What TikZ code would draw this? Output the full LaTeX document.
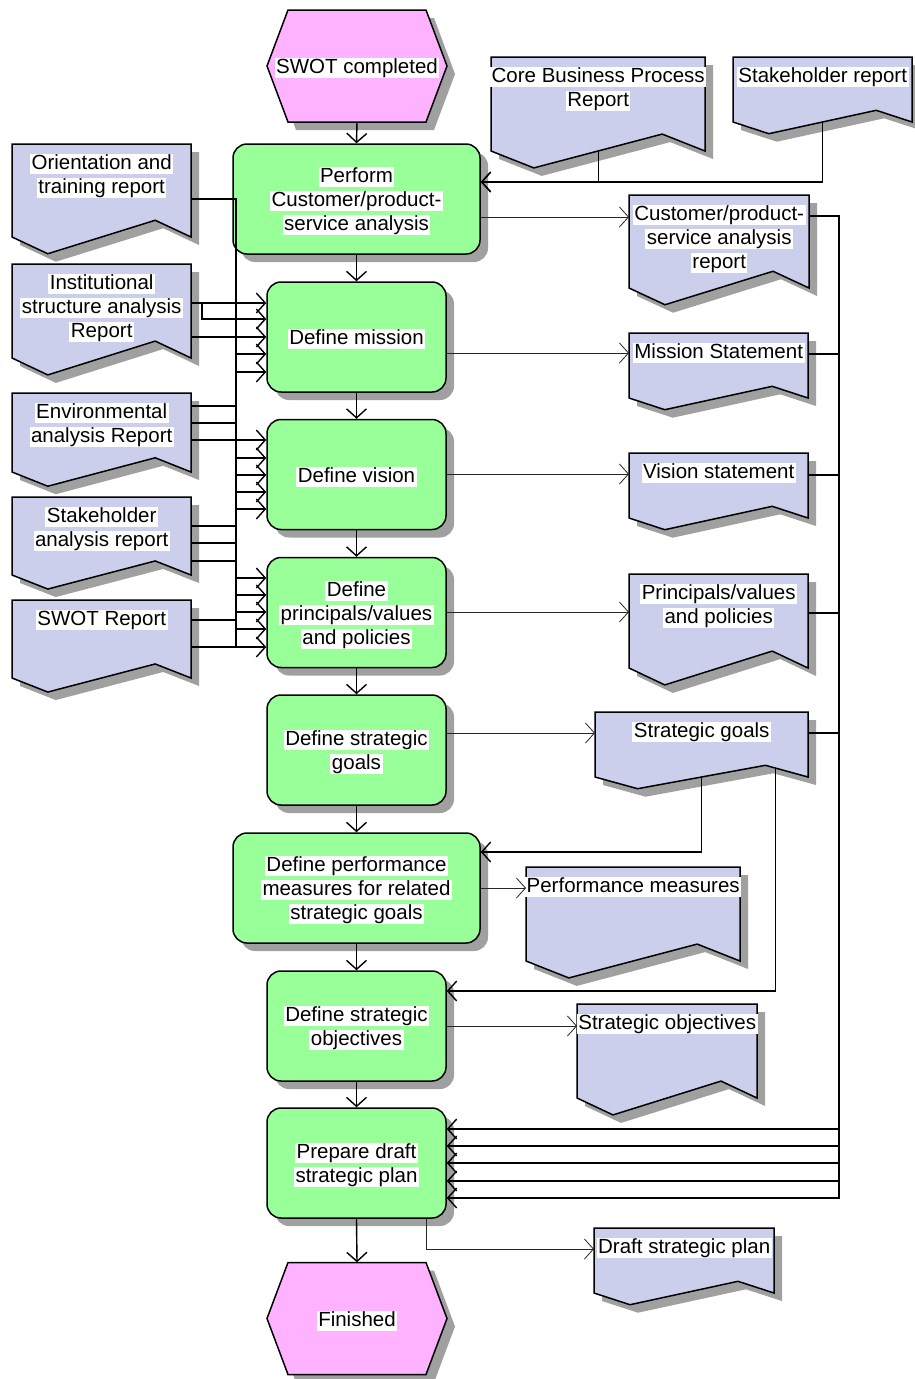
\documentclass[tikz,border=0pt]{standalone}
\usepackage{fontspec}
\setmainfont{Liberation Sans}
\usetikzlibrary{arrows.meta,shadows,calc}

\definecolor{procgreen}{RGB}{153,255,153}
\definecolor{eventpink}{RGB}{255,178,255}
\definecolor{docblue}{RGB}{204,207,236}
\definecolor{shadowgray}{RGB}{160,160,160}

\setlength{\fboxsep}{0pt}
% one text line on a white band, set slightly low so the capitals sit centred
\newcommand{\wl}[1]{\raisebox{-2pt}[15.5pt][4.5pt]{\colorbox{white}{\rule[-4.5pt]{0pt}{20pt}\hspace{1.5pt}#1\hspace{1.5pt}}}}

% document symbol: name, left, top, right, side bottom, label
\newcommand{\docshape}[6]{%
  \pgfmathsetmacro\dcD{0.18*(#5-#3)}%
  \pgfmathsetmacro\dcX{0.2*(#4-#2)}%
  \pgfmathsetmacro\dcPx{#2+\dcX}%
  \pgfmathsetmacro\dcNx{#4-\dcX}%
  \pgfmathsetmacro\dcPy{#5+\dcD}%
  \pgfmathsetmacro\dcNy{#5-\dcD}%
  \pgfmathsetmacro\dcW{#4-#2}%
  \pgfmathsetmacro\dcH{#5-#3}%
  \fill[shadowgray, shift={(8,8)}] (#2,#3) -- (#4,#3) -- (#4,#5) -- (\dcNx,\dcNy) -- (\dcPx,\dcPy) -- (#2,#5) -- cycle;
  \draw[docline] (#2,#3) -- (#4,#3) -- (#4,#5) -- (\dcNx,\dcNy) -- (\dcPx,\dcPy) -- (#2,#5) -- cycle;
  \node[anchor=north west, inner sep=0pt, minimum width=\dcW pt, minimum height=\dcH pt] (#1) at (#2,#3) {};
  \node[lbl, anchor=north] (#1-t) at ($(#1.north)+(0,8)$) {#6};
}

% event hexagon: name, centre x, centre y, label
\newcommand{\eventhex}[4]{%
  \begin{scope}[shift={(#2,#3)}]
    \fill[shadowgray, shift={(8,8)}] (-69,-56) -- (69,-56) -- (90,0) -- (69,56) -- (-69,56) -- (-90,0) -- cycle;
    \draw[line width=1.5pt, fill=eventpink] (-69,-56) -- (69,-56) -- (90,0) -- (69,56) -- (-69,56) -- (-90,0) -- cycle;
  \end{scope}
  \node[inner sep=0pt, minimum width=180pt, minimum height=112pt] (#1) at (#2,#3) {\wl{#4}};
}

\begin{document}
\begin{tikzpicture}[x=1pt, y=-1pt,
  font=\fontsize{20.5}{24}\selectfont,
  proc/.style={draw, line width=1.5pt, fill=procgreen, rounded corners=14pt,
    minimum height=110pt, align=center, inner sep=0pt,
    drop shadow={shadow xshift=8pt, shadow yshift=-8pt, fill=shadowgray, opacity=1}},
  narrowproc/.style={proc, minimum width=179pt},
  wideproc/.style={proc, minimum width=247pt},
  docline/.style={line width=1.5pt, fill=docblue},
  lbl/.style={align=center, inner sep=0pt},
  flow/.style={line width=1.4pt, -{Straight Barb[length=9pt,width=20pt]}},
  outflow/.style={line width=0.8pt, draw=black!85, -{Straight Barb[length=9pt,width=20pt]}}]

\fill[white] (0,0) rectangle (915,1379);
\useasboundingbox (0,0) rectangle (915,1379);

% events
\eventhex{swot}{357}{66}{SWOT completed}
\eventhex{fin}{357}{1318.5}{Finished}

% functions
\node[wideproc] (perform) at (356.5,199) {\wl{Perform}\\\wl{Customer/product-}\\\wl{service analysis}};
\node[narrowproc] (mission) at (356.5,337) {\wl{Define mission}};
\node[narrowproc] (vision) at (356.5,474.5) {\wl{Define vision}};
\node[narrowproc] (princ) at (356.5,612.5) {\wl{Define}\\\wl{principals/values}\\\wl{and policies}};
\node[narrowproc] (goals) at (356.5,750) {\wl{Define strategic}\\\wl{goals}};
\node[wideproc] (perfm) at (356.5,888) {\wl{Define performance}\\\wl{measures for related}\\\wl{strategic goals}};
\node[narrowproc] (objs) at (356.5,1026) {\wl{Define strategic}\\\wl{objectives}};
\node[narrowproc] (prep) at (356.5,1163) {\wl{Prepare draft}\\\wl{strategic plan}};

% input documents
\docshape{orient}{12}{144}{191}{237}{\wl{Orientation and}\\\wl{training report}}
\docshape{inst}{12}{264}{191}{358}{\wl{Institutional}\\\wl{structure analysis}\\\wl{Report}}
\docshape{env}{12}{393}{191}{472}{\wl{Environmental}\\\wl{analysis Report}}
\docshape{stake}{12}{497}{191}{575}{\wl{Stakeholder}\\\wl{analysis report}}
\docshape{swotr}{12}{600}{191}{678}{\wl{SWOT Report}}
\docshape{core}{491}{57}{705}{151}{\wl{Core Business Process}\\\wl{Report}}
\docshape{stkrep}{733}{57}{912}{122}{\wl{Stakeholder report}}

% output documents
\docshape{custdoc}{629}{195}{809}{288}{\wl{Customer/product-}\\\wl{service analysis}\\\wl{report}}
\docshape{misdoc}{629}{333}{808}{398}{\wl{Mission Statement}}
\docshape{visdoc}{629}{453}{808}{518}{\wl{Vision statement}}
\docshape{pvdoc}{629}{574}{808}{668}{\wl{Principals/values}\\\wl{and policies}}
\docshape{goaldoc}{595}{712}{808}{777}{\wl{Strategic goals}}
\docshape{perfdoc}{526}{867}{740}{961}{\wl{Performance measures}}
\docshape{objdoc}{577}{1004}{757}{1098}{\wl{Strategic objectives}}
\docshape{draftdoc}{594}{1228}{774}{1293}{\wl{Draft strategic plan}}

% control flow
\draw[flow] (swot.south) -- (perform.north);
\draw[flow] (perform.south) -- (mission.north);
\draw[flow] (mission.south) -- (vision.north);
\draw[flow] (vision.south) -- (princ.north);
\draw[flow] (princ.south) -- (goals.north);
\draw[flow] (goals.south) -- (perfm.north);
\draw[flow] (perfm.south) -- (objs.north);
\draw[flow] (objs.south) -- (prep.north);
\draw[flow] (prep.south) -- (fin.north);

% inputs to the analysis
\draw[flow] (core.south) |- (perform.east |- 0,182);
\draw[flow] (stkrep.south) |- (perform.east |- 0,182);

% left input bus
\coordinate (lbus) at (236,0);
\coordinate (ijog) at (202,0);
% into Define mission
\draw[flow] (inst.east |- 0,303) -- (mission.west |- 0,303);
\draw[flow] (orient.east |- 0,199) -| (lbus |- 0,319) -- (mission.west |- 0,319);
\draw[flow] (env.east |- 0,406) -| (lbus |- 0,337) -- (mission.west |- 0,337);
\draw[flow] (stake.east |- 0,526) -| (lbus |- 0,354) -- (mission.west |- 0,354);
\draw[flow] (swotr.east |- 0,620) -| (lbus |- 0,372) -- (mission.west |- 0,372);
% into Define vision
\draw[flow] (env.east |- 0,440) -- (vision.west |- 0,440);
\draw[flow] (orient.east |- 0,199) -| (lbus |- 0,458) -- (vision.west |- 0,458);
\draw[flow] (inst.east |- 0,303) -| (ijog |- 0,319) -| (lbus |- 0,475) -- (vision.west |- 0,475);
\draw[flow] (stake.east |- 0,543) -| (lbus |- 0,492) -- (vision.west |- 0,492);
\draw[flow] (swotr.east |- 0,620) -| (lbus |- 0,509) -- (vision.west |- 0,509);
% into Define principals/values and policies
\draw[flow] (orient.east |- 0,199) -| (lbus |- 0,578) -- (princ.west |- 0,578);
\draw[flow] (inst.east |- 0,337) -| (lbus |- 0,595) -- (princ.west |- 0,595);
\draw[flow] (env.east |- 0,423) -| (lbus |- 0,612) -- (princ.west |- 0,612);
\draw[flow] (swotr.east |- 0,647) -| (lbus |- 0,629) -- (princ.west |- 0,629);
\draw[flow] (stake.east |- 0,561) -| (lbus |- 0,647) -- (princ.west |- 0,647);

% outputs
\draw[outflow] (perform.east |- 0,217) -- (custdoc.west |- 0,217);
\draw[outflow] (mission.east |- 0,353) -- (misdoc.west |- 0,353);
\draw[outflow] (vision.east |- 0,474) -- (visdoc.west |- 0,474);
\draw[outflow] (princ.east |- 0,612) -- (pvdoc.west |- 0,612);
\draw[outflow] (goals.east |- 0,733) -- (goaldoc.west |- 0,733);
\draw[outflow] (perfm.east |- 0,888) -- (perfdoc.west |- 0,888);
\draw[outflow] (objs.east |- 0,1026) -- (objdoc.west |- 0,1026);
\draw[outflow] ($(prep.south)+(70,0)$) |- (draftdoc.west |- 0,1249);

% strategic goals feed the next steps
\draw[flow] (goaldoc.south) |- (perfm.east |- 0,852);
\draw[flow] ($(goaldoc.south east)+(-33,-9)$) |- (objs.east |- 0,991);

% right bus into the draft plan
\coordinate (rbus) at (839,0);
\draw[flow] (custdoc.east |- 0,216) -| (rbus |- 0,1129) -- (prep.east |- 0,1129);
\draw[flow] (misdoc.east |- 0,354) -| (rbus |- 0,1146) -- (prep.east |- 0,1146);
\draw[flow] (visdoc.east |- 0,475) -| (rbus |- 0,1163) -- (prep.east |- 0,1163);
\draw[flow] (pvdoc.east |- 0,613) -| (rbus |- 0,1181) -- (prep.east |- 0,1181);
\draw[flow] (goaldoc.east |- 0,733) -| (rbus |- 0,1198) -- (prep.east |- 0,1198);

\end{tikzpicture}
\end{document}
